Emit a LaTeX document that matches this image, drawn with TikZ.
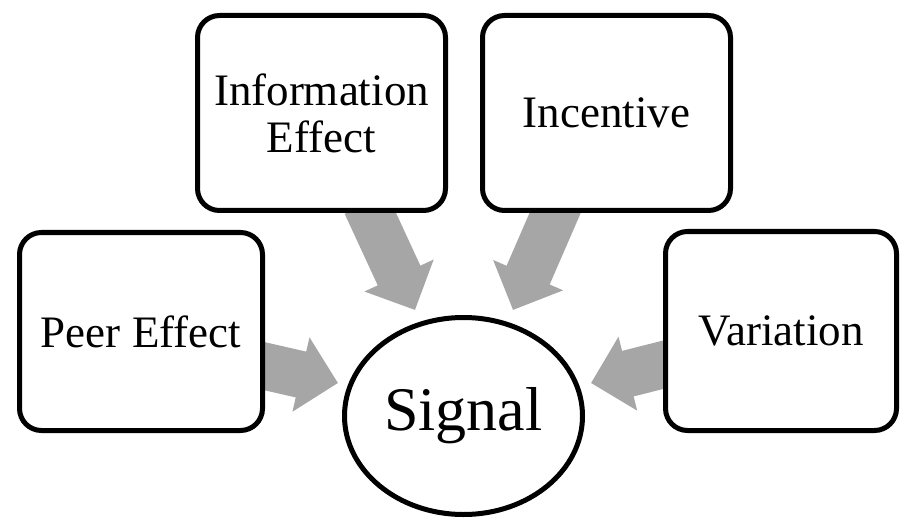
\documentclass[tikz,border=0pt]{standalone}
\usepackage{fontspec}
\setmainfont{Liberation Serif}
\usetikzlibrary{arrows.meta,shapes.geometric,backgrounds}
\definecolor{arrowgray}{HTML}{A6A6A6}
\tikzset{
  box/.style={draw=black, line width=5pt, rounded corners=22pt, fill=white,
    inner sep=0pt, align=center, font=\fontsize{45}{47}\selectfont},
  sigbox/.style={draw=black, line width=5pt, ellipse, fill=white, inner sep=0pt,
    minimum width=238pt, minimum height=197pt, font=\fontsize{62}{66}\selectfont},
  blockarrow/.style={draw=arrowgray, line width=47pt,
    -{Triangle[width=74pt,length=38pt]}}
}
\begin{document}
\begin{tikzpicture}[x=1pt,y=-1pt]
\useasboundingbox (0,0) rectangle (901,521);
\node[box, minimum width=243pt, minimum height=198pt] (peer) at (141,331.5) {Peer Effect};
\node[box, minimum width=248pt, minimum height=195pt] (info) at (321.5,113) {Information\\Effect};
\node[box, minimum width=248pt, minimum height=195pt] (inc) at (606.5,113) {Incentive};
\node[box, minimum width=231pt, minimum height=199pt] (var) at (781,331) {Variation};
\node[sigbox] (sig) at (463.5,416) {Signal};
\coordinate (a1s) at (255,364);
\coordinate (a1e) at (338,383);
\coordinate (a2s) at (366,204);
\coordinate (a2e) at (415,310);
\coordinate (a3s) at (559,204);
\coordinate (a3e) at (513,310);
\coordinate (a4s) at (672,362.5);
\coordinate (a4e) at (591,383);
\begin{scope}[on background layer]
\draw[blockarrow] (a1s) -- (a1e);
\draw[blockarrow] (a2s) -- (a2e);
\draw[blockarrow] (a3s) -- (a3e);
\draw[blockarrow] (a4s) -- (a4e);
\end{scope}
\end{tikzpicture}
\end{document}
